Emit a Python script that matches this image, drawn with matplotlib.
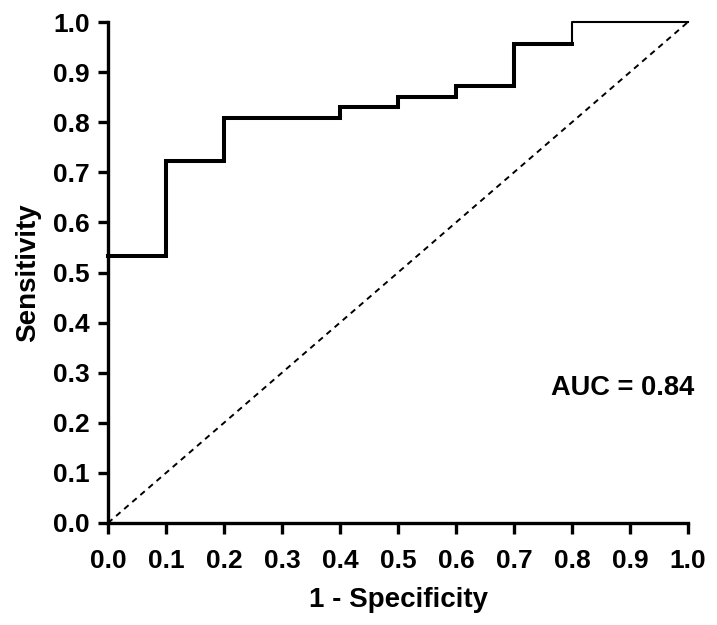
import matplotlib
matplotlib.use('Agg')
import matplotlib.pyplot as plt
import numpy as np

# ROC curve points (1 - specificity, sensitivity)
fpr = [0.0, 0.1, 0.1, 0.2, 0.2, 0.4, 0.4, 0.5, 0.5, 0.6, 0.6, 0.7, 0.7, 0.8]
tpr = [0.532, 0.532, 0.723, 0.723, 0.809, 0.809, 0.830, 0.830, 0.851, 0.851, 0.872, 0.872, 0.957, 0.957]
tail_fpr = [0.8, 0.8, 1.0]
tail_tpr = [0.957, 1.0, 1.0]
auc_value = 0.84

plt.rcParams['font.family'] = ['Liberation Sans', 'DejaVu Sans']
plt.rcParams['font.weight'] = 'bold'

fig = plt.figure(figsize=(7.17, 6.25), dpi=100)
ax = fig.add_axes([0.1506, 0.1632, 0.809, 0.8016])

ax.plot(fpr, tpr, color='black', lw=2.9, solid_joinstyle='miter', clip_on=False)
ax.plot(tail_fpr, tail_tpr, color='black', lw=1.5, clip_on=False)
ax.plot([0, 1], [0, 1], color='black', lw=1.4, linestyle=(0, (3, 2.5)), clip_on=False)

ax.set_xlim(0, 1)
ax.set_ylim(0, 1)
ticks = np.round(np.arange(0, 1.01, 0.1), 1)
ax.set_xticks(ticks)
ax.set_yticks(ticks)
ax.set_xticklabels([f"{t:.1f}" for t in ticks])
ax.set_yticklabels([f"{t:.1f}" for t in ticks])

for side in ['top', 'right']:
    ax.spines[side].set_visible(False)
for side in ['left', 'bottom']:
    ax.spines[side].set_linewidth(2.4)

ax.tick_params(axis='x', direction='out', length=8, width=2.4, labelsize=19, pad=11)
ax.tick_params(axis='y', direction='out', length=7, width=2.4, labelsize=19, pad=6)

ax.set_xlabel('1 - Specificity', fontsize=20, fontweight='bold', labelpad=10)
ax.set_ylabel('Sensitivity', fontsize=20, fontweight='bold', labelpad=9)

ax.text(1.01, 0.255, f'AUC = {auc_value:.2f}', fontsize=19.6, fontweight='bold',
        ha='right', va='baseline', transform=ax.transData)

plt.savefig('out.png', dpi=100)
plt.close()
